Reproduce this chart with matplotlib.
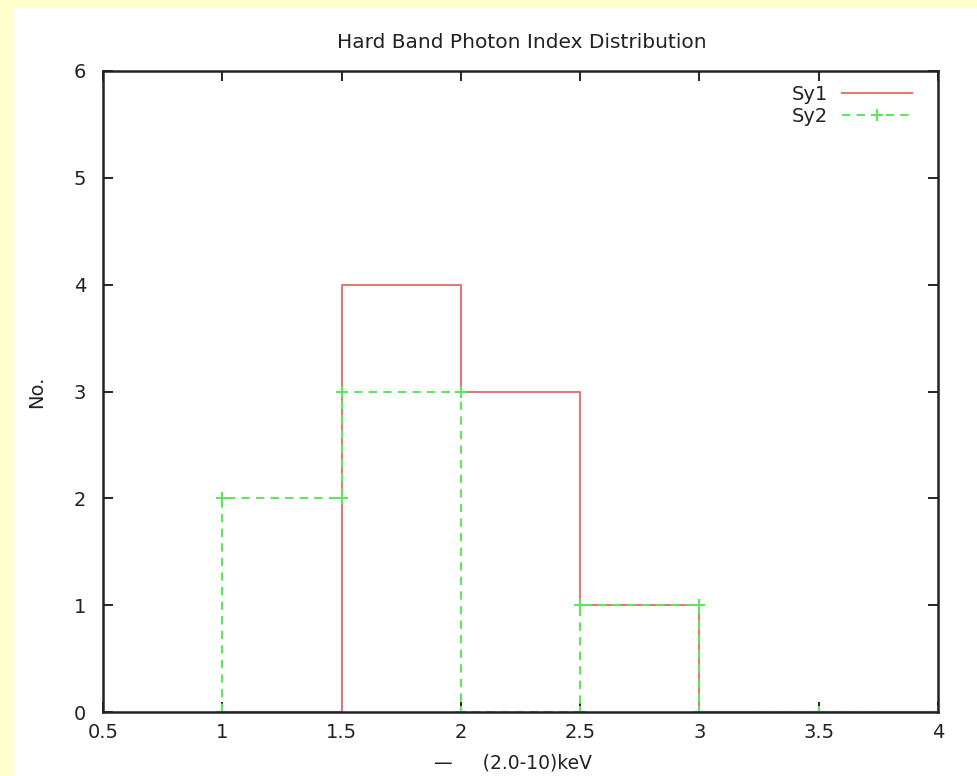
import matplotlib
matplotlib.use("Agg")
import matplotlib.pyplot as plt
from matplotlib.patches import Rectangle

plt.rcParams['font.family'] = ['DejaVu Sans']

# Data
sy1_x = [1.0, 1.5, 2.0, 2.5, 3.0, 3.5, 4.0]
sy1_y = [0, 4, 3, 1, 0, 0, 0]

sy2_x = [1.0, 1.0, 1.5, 1.5, 2.0, 2.0, 2.5, 2.5, 3.0, 3.0, 3.5, 4.0]
sy2_y = [0, 2, 2, 3, 3, 0, 0, 1, 1, 0, 0, 0]

xticks = [0.5, 1, 1.5, 2, 2.5, 3, 3.5, 4]
xticklabels = ['0.5', '1', '1.5', '2', '2.5', '3', '3.5', '4']
yticks = [0, 1, 2, 3, 4, 5, 6]

fig = plt.figure(figsize=(9.78, 7.76), dpi=100)
fig.patch.set_facecolor('#ffffcc')
fig.add_artist(Rectangle((14/978, 0), 1 - 14/978, 1 - 8/776,
                         transform=fig.transFigure, facecolor='white',
                         edgecolor='none', zorder=-10))

ax = fig.add_axes([103/978, 1 - 712/776, (938 - 103)/978, (712 - 71)/776])
ax.set_facecolor('white')

ax.step(sy1_x, sy1_y, where='post', color='#e07a7a', lw=1.5, label='Sy1', zorder=3)
ax.plot(sy2_x, sy2_y, color='#5ee65e', lw=1.5, ls=(0, (4, 3)), marker='+',
        markersize=8, markeredgewidth=1.5, label='Sy2', zorder=4)

ax.set_xlim(0.5, 4)
ax.set_ylim(0, 6)
ax.set_xticks(xticks)
ax.set_xticklabels(xticklabels)
ax.set_yticks(yticks)
ax.tick_params(direction='in', length=7, width=1.2, top=True, right=True,
               labelsize=14, color='black', labelcolor='#222222')
ax.tick_params(axis='x', pad=8)
ax.tick_params(axis='y', pad=12)
for s in ax.spines.values():
    s.set_linewidth(1.8)
    s.set_color('#222222')
    s.set_zorder(5)

fig.text(522/978, 1 - 42/776, 'Hard Band Photon Index Distribution',
         ha='center', va='center', fontsize=14.5, color='#222222')
fig.text(37/978, 1 - 392/776, 'No.', ha='center', va='center', rotation=90,
         fontsize=14, color='#222222')
fig.text(513/978, 1 - 763/776, '—     (2.0-10)keV', ha='center', va='center',
         fontsize=13.5, color='#222222')

leg = ax.legend(loc='upper right', frameon=False, markerfirst=False, fontsize=14,
                handlelength=3.6, handletextpad=0.7, labelspacing=0.15,
                borderaxespad=0.3, bbox_to_anchor=(0.985, 1.0))
for t in leg.get_texts():
    t.set_color('#222222')

fig.savefig('out.png', dpi=100, facecolor=fig.get_facecolor())
